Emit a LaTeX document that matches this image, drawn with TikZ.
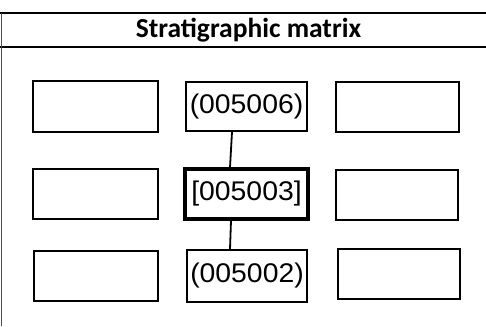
\documentclass[tikz,border=0pt]{standalone}
\usepackage{fontspec}
\setmainfont{Liberation Sans}
\newfontfamily\titlefont{Carlito}
\newcommand\handtext[1]{\scalebox{1.05}[1]{\fontsize{27}{29}\selectfont #1}}
\tikzset{
  cell/.style={draw=black, line width=2pt, minimum width=#1, minimum height=50pt, inner sep=0pt},
  cell/.default=124pt,
  rule/.style={line width=2pt},
  link/.style={line width=1.8pt, line cap=round}
}
\begin{document}
\begin{tikzpicture}[x=1pt,y=-1pt]
\useasboundingbox (0,0) rectangle (486,326);
\fill[white] (0,0) rectangle (486,326);
% frame lines
\coordinate (tl) at (0,13);
\coordinate (tr) at (486,13);
\coordinate (ml) at (0,47);
\coordinate (mr) at (486,47);
\coordinate (bl) at (1,326);
\draw[rule] (tl) -- (tr);
\draw[rule] (ml) -- (mr);
\draw[line width=0.8pt, black!70] ([xshift=1pt]tl) -- (bl);
\node[font=\titlefont\bfseries\fontsize{27.5}{30}\selectfont] (title) at (248.5,30) {Stratigraphic matrix};
% left column
\node[cell=125pt] (l1) at (95.5,106.5) {};
\node[cell=125pt] (l2) at (95.5,194) {};
\node[cell=124pt] (l3) at (96,276) {};
% right column
\node[cell=123pt] (r1) at (397.5,107) {};
\node[cell=122pt] (r2) at (397,194.5) {};
\node[cell=122pt] (r3) at (399,273.5) {};
% centre column
\node[cell=121pt, minimum height=49pt] (c1) at (246.5,106.5) {\handtext{(005006)}};
\node[cell=123pt, line width=3.2pt] (c2) at (246.5,194) {\handtext{[005003]}};
\node[cell=120pt, minimum height=52pt] (c3) at (247,276) {\handtext{(005002)}};
% connectors
\draw[link] ([xshift=-14.5pt]c1.south) -- ([xshift=-16.5pt]c2.north);
\draw[link] ([xshift=-15.5pt]c2.south) -- ([xshift=-17pt]c3.north);
\end{tikzpicture}
\end{document}
